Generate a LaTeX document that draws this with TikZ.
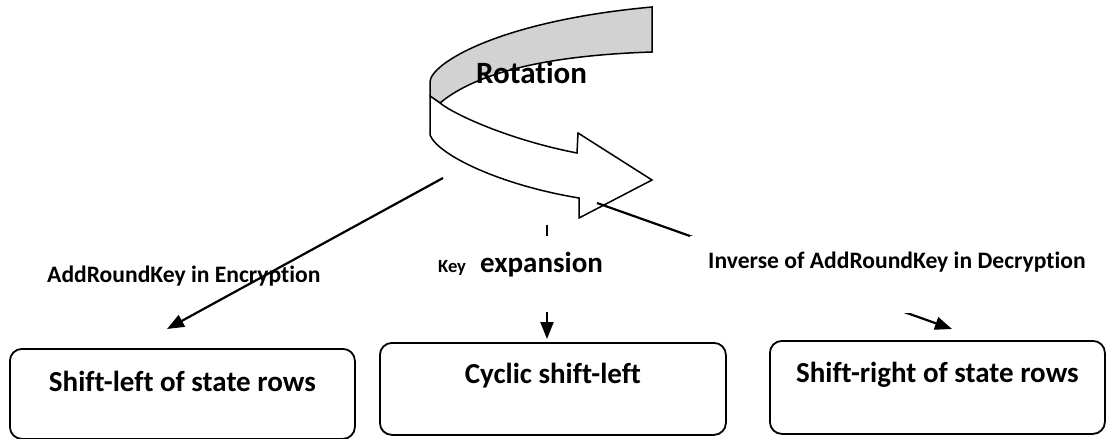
\documentclass[tikz,border=0pt]{standalone}
\usepackage{fontspec}
\setmainfont{Carlito}[Ligatures=NoCommon]
\usetikzlibrary{arrows.meta}
\definecolor{bandgray}{RGB}{210,210,210}
\begin{document}
\begin{tikzpicture}[x=1pt,y=-1pt,
  stbox/.style={draw, line width=1.8pt, rounded corners=12pt, inner sep=0pt, anchor=north west, align=center, font=\bfseries\fontsize{29}{34}\selectfont},
  lbl/.style={inner sep=0pt, anchor=base west, font=\bfseries\fontsize{23.6}{28}\selectfont},
  bigtxt/.style={inner sep=0pt, anchor=base west, font=\bfseries\fontsize{31}{36}\selectfont},
  conn/.style={line width=2.2pt, -{Triangle[length=17pt,width=13pt]}},
  ribbon/.style={draw, line width=1.5pt, line join=miter}
]
\useasboundingbox (0,0) rectangle (1106,439);

% rotation ribbon arrow
\path[ribbon, fill=bandgray] (652,7) .. controls (498,21) and (430,64) .. (430,82)
  -- (430,96) -- (440,103) .. controls (470,78) and (530,56) .. (652,52) -- cycle;
\path[ribbon, fill=white] (440,103) .. controls (455,115) and (510,140) .. (577,153)
  -- (578,133) -- (652,180) -- (579,218) -- (579,198)
  .. controls (500,185) and (438,155) .. (430,135) -- (430,96) -- cycle;
\node[bigtxt] (rot) at (476,83) {Rotation};

% left label (under the connector)
\node[lbl] (lab1) at (47,282) {AddRoundKey in Encryption};

% connector ends
\coordinate (s1) at (443,178); \coordinate (e1) at (167,329);
\coordinate (s2) at (547,225); \coordinate (e2) at (547,339);
\coordinate (s3) at (597,203); \coordinate (e3) at (952,329);

\draw[conn] (s1) -- (e1);
\draw[conn] (s2) -- (e2);
\draw[conn] (s3) -- (e3);

% labels with white background covering the connectors
\node[inner sep=0pt, anchor=base west, fill=white, text height=36pt, text depth=40pt] (lab2) at (438,272)
  {\makebox[42pt][l]{\bfseries\fontsize{18.6}{22}\selectfont Key}\bfseries\fontsize{29}{34}\selectfont expansion};
\node[lbl, fill=white, inner xsep=18pt, text height=32pt, text depth=45pt] (lab3) at (690,268)
  {Inverse of AddRoundKey in Decryption};

% boxes
\node[stbox, minimum width=345pt, text height=43pt, text depth=47pt] (b1) at (9,348) {Shift-left of state rows};
\node[stbox, minimum width=346pt, text height=41pt, text depth=51pt] (b2) at (379,342) {Cyclic shift-left};
\node[stbox, minimum width=335pt, text height=42pt, text depth=51pt] (b3) at (769,340) {Shift-right of state rows};
\end{tikzpicture}
\end{document}
